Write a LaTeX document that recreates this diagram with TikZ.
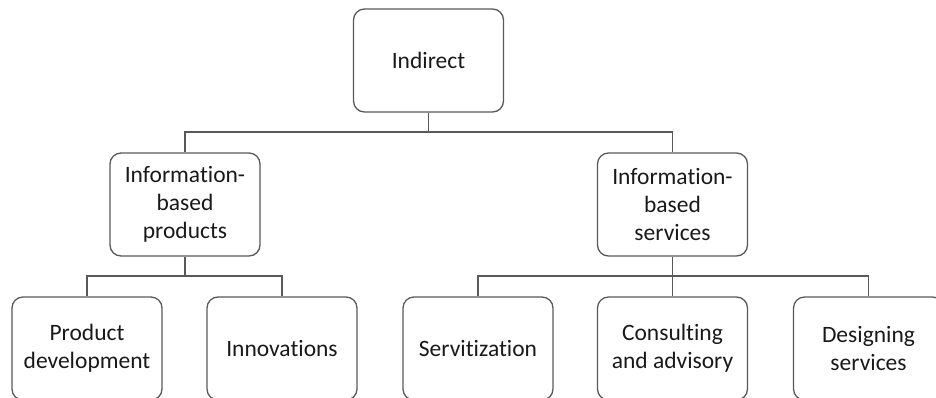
\documentclass[tikz,border=0pt]{standalone}
\usepackage{fontspec}
\setmainfont{Carlito}[Ligatures=NoCommon]
\begin{document}
\begin{tikzpicture}[x=1pt,y=-1pt,
  box/.style={draw=black!65, line width=1.3pt, rounded corners=11pt,
    minimum width=150pt, minimum height=103pt, align=center,
    font=\fontsize{23.5}{28}\selectfont, text=black!90, inner sep=0pt},
  link/.style={draw=black!65, line width=1.3pt}]
  \clip (0,0) rectangle (936,397);
  \useasboundingbox (0,0) rectangle (936,397);

  % top level
  \node[box] (ind) at (428.5,60.5) {Indirect};

  % second level
  \node[box] (ipr) at (185,204.5) {Information-\\based\\products};
  \node[box] (isv) at (672.5,204.5) {Information-\\based\\services};

  % third level
  \node[box] (pd)  at (87,348.5)  {Product\\development};
  \node[box] (inn) at (282,348.5) {Innovations};
  \node[box] (srv) at (478,348.5) {Servitization};
  \node[box] (cns) at (672.5,348.5) {Consulting\\and advisory};
  \node[box] (dsg) at (868.5,348.5) {Designing\\services};

  % junctions of the elbow connectors
  \coordinate (j0) at (428.5,132);
  \coordinate (j1) at (185,276);
  \coordinate (j2) at (672.5,276);

  \draw[link] (ind) -- (j0);
  \draw[link] (j0) -| (ipr);
  \draw[link] (j0) -| (isv);

  \draw[link] (ipr) -- (j1);
  \draw[link] (j1) -| (pd);
  \draw[link] (j1) -| (inn);

  \draw[link] (isv) -- (cns);
  \draw[link] (j2) -| (srv);
  \draw[link] (j2) -| (dsg);
\end{tikzpicture}
\end{document}
